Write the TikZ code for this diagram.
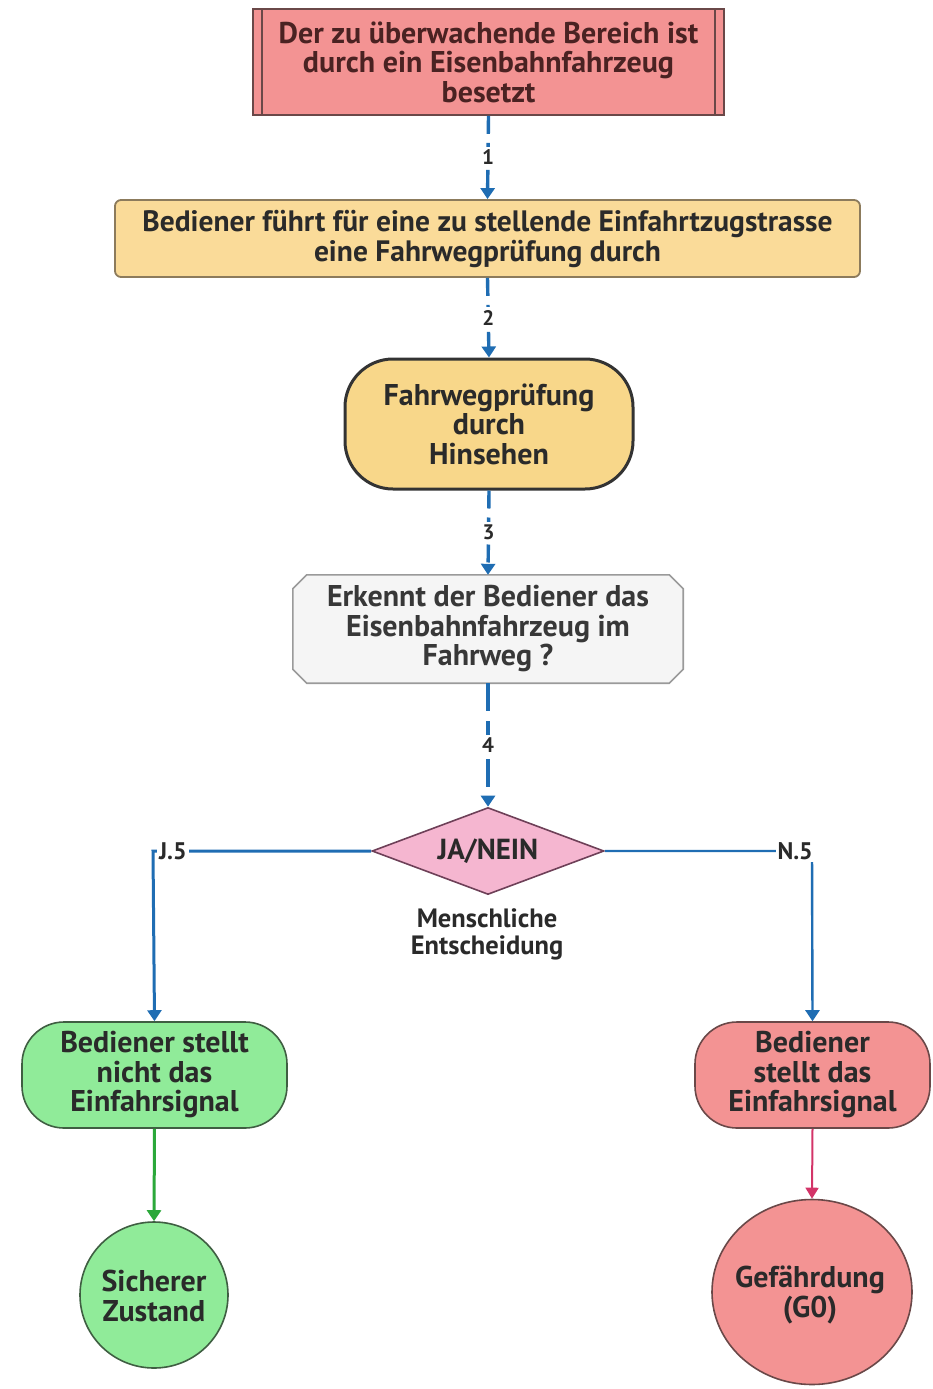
\documentclass[tikz,border=0pt]{standalone}
\usepackage{fontspec}
\setmainfont{PT Sans}
\usetikzlibrary{shapes.geometric,calc,arrows.meta}
\definecolor{redfill}{HTML}{F39393}
\definecolor{redline}{HTML}{6A4848}
\definecolor{orfill}{HTML}{FADB99}
\definecolor{orline}{HTML}{8C7B5C}
\definecolor{stfill}{HTML}{F8D78A}
\definecolor{hexfill}{HTML}{F5F5F5}
\definecolor{hexline}{HTML}{9A9A9A}
\definecolor{diafill}{HTML}{F5B6D0}
\definecolor{dialine}{HTML}{6E4058}
\definecolor{grfill}{HTML}{90EB99}
\definecolor{grline}{HTML}{3F5E42}
\definecolor{blueln}{HTML}{1F6DB3}
\definecolor{greenln}{HTML}{2BA83A}
\definecolor{crimln}{HTML}{D33468}
\definecolor{txtc}{HTML}{2A2A2A}
\definecolor{txtred}{HTML}{4A2222}
\tikzset{
  txt/.style={font=\fontsize{30}{29.5}\selectfont\bfseries, align=center, text=txtc},
  boxbase/.style={inner sep=0pt, txt},
  flowblue/.style={draw=blueln, line width=3.4pt, dash pattern=on 18pt off 9pt, -{Triangle[width=14pt,length=11pt]}},
  numlbl/.style={fill=white, inner sep=3pt, font=\fontsize{21}{22}\selectfont\bfseries, text=txtc},
  branchlbl/.style={fill=white, inner sep=2pt, font=\fontsize{24}{24}\selectfont\bfseries, text=txtc},
}
\begin{document}
\begin{tikzpicture}[x=1pt,y=-1pt]
\useasboundingbox (0,0) rectangle (932,1389);

% top box
\node[boxbase, rectangle, draw=redline, line width=1.8pt, fill=redfill, minimum width=471pt, minimum height=106pt, text=txtred] (top) at (488.5,62)
  {Der zu überwachende Bereich ist\\durch ein Eisenbahnfahrzeug\\besetzt};
\draw[redline, line width=1.8pt] ($(top.north west)+(10,0)$) -- ($(top.south west)+(10,0)$);
\draw[redline, line width=1.8pt] ($(top.north east)+(-10,0)$) -- ($(top.south east)+(-10,0)$);

% box 2
\node[boxbase, rectangle, rounded corners=6pt, draw=orline, line width=1.8pt, fill=orfill, minimum width=745pt, minimum height=77pt, font=\fontsize{29.5}{30}\selectfont\bfseries] (box) at (487.5,238.5)
  {Bediener führt für eine zu stellende Einfahrtzugstrasse\\eine Fahrwegprüfung durch};

% stadium
\node[boxbase, rectangle, rounded corners=48pt, draw=black!80, line width=3pt, fill=stfill, minimum width=288pt, minimum height=130pt] (stad) at (489,424)
  {Fahrwegprüfung\\durch\\Hinsehen};

% chamfered box
\node[boxbase, rectangle, minimum width=390pt, minimum height=108pt] (hex) at (488,629) {};
\fill[hexfill, draw=hexline, line width=1.6pt]
  ($(hex.north west)+(14,0)$) -- ($(hex.north east)+(-14,0)$) -- ($(hex.north east)+(0,14)$)
  -- ($(hex.south east)+(0,-14)$) -- ($(hex.south east)+(-14,0)$) -- ($(hex.south west)+(14,0)$)
  -- ($(hex.south west)+(0,-14)$) -- ($(hex.north west)+(0,14)$) -- cycle;
\node[txt, inner sep=0pt, text=black!78] (hext) at (hex.center) {Erkennt der Bediener das\\Eisenbahnfahrzeug im\\Fahrweg ?};

% diamond
\node[diamond, draw=dialine, line width=1.6pt, fill=diafill, minimum width=232pt, minimum height=87pt, inner sep=0pt, aspect=2.67, font=\fontsize{29}{29}\selectfont\bfseries, text=txtc] (dia) at (488,851) {JA/NEIN};
\node[txt, font=\fontsize{26.5}{27}\selectfont\bfseries] (hum) at (487,934) {Menschliche\\Entscheidung};

% bottom nodes
\node[boxbase, rectangle, rounded corners=42pt, draw=grline, line width=1.6pt, fill=grfill, minimum width=265pt, minimum height=106pt] (g1) at (154.5,1075)
  {Bediener stellt\\nicht das\\Einfahrsignal};
\node[boxbase, rectangle, rounded corners=42pt, draw=redline, line width=1.6pt, fill=redfill, minimum width=235pt, minimum height=106pt] (r1) at (812.5,1075)
  {Bediener\\stellt das\\Einfahrsignal};
\node[ellipse, draw=grline, line width=1.6pt, fill=grfill, minimum width=148pt, minimum height=146pt, inner sep=0pt] (g2) at (154,1295) {};
\node[txt, inner sep=0pt] (g2t) at (154,1296) {Sicherer\\Zustand};
\node[ellipse, draw=redline, line width=1.6pt, fill=redfill, minimum width=200pt, minimum height=185pt, inner sep=0pt] (r2) at (812,1292) {};
\node[txt, inner sep=0pt] (r2t) at (810,1295) {Gefährdung\\(G0)};

% connectors
\draw[flowblue] (top.south) -- node[numlbl]{1} (box.north);
\draw[flowblue] (box.south) -- node[numlbl]{2} (stad.north);
\draw[flowblue] (stad.south) -- node[numlbl]{3} (hex.north);
\draw[flowblue, dash pattern=on 28pt off 10pt] (hex.south) -- node[numlbl]{4} (dia.north);

\coordinate (jc) at (153,851);
\coordinate (nc) at (812,851);
\draw[blueln, line width=3pt, -{Triangle[width=14pt,length=11pt]}] (dia.west) -- (jc) -- (g1.north);
\draw[blueln, line width=2.4pt, -{Triangle[width=14pt,length=11pt]}] (dia.east) -- (nc) -- (r1.north);
\node[branchlbl, anchor=west] (jl) at (157,851) {J.5};
\node[branchlbl, anchor=east] (nl) at (815,851) {N.5};

\draw[greenln, line width=3pt, -{Triangle[width=14pt,length=11pt]}] (g1.south) -- (g2.north);
\draw[crimln, line width=2pt, -{Triangle[width=13pt,length=11pt]}] (r1.south) -- (r2.north);
\end{tikzpicture}
\end{document}
